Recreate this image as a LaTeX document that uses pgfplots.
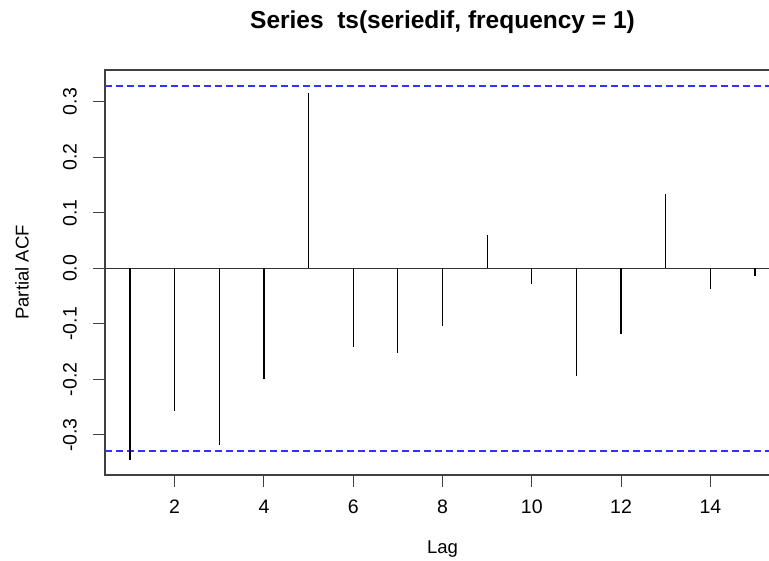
\documentclass[border=0pt]{standalone}
\usepackage{pgfplots}
\pgfplotsset{compat=1.18}
\usepackage{fontspec}
\setmainfont{Liberation Sans}
\definecolor{ciblue}{RGB}{50,50,255}

\begin{document}
\begin{tikzpicture}
\begin{axis}[
  scale only axis,
  width=675pt, height=405pt,
  xmin=0.44, xmax=15.56,
  ymin=-0.372, ymax=0.357,
  xtick={2,4,...,14},
  ytick={-0.3,-0.2,...,0.31},
  xtick pos=bottom, ytick pos=left,
  tick align=outside,
  major tick length=12pt,
  tick style={black!75, line width=1pt},
  axis line style={black!75, line width=1.2pt},
  /pgf/number format/assume math mode=true,
  yticklabel={\pgfmathprintnumber[fixed,fixed zerofill,precision=1]{\tick}},
  ticklabel style={font=\fontsize{19.5}{22}\selectfont},
  xticklabel style={anchor=center, yshift=-20pt},
  yticklabel style={xshift=-23pt, anchor=center, rotate=90},
  title={Series\ \ ts(seriedif, frequency = 1)},
  title style={font=\bfseries\fontsize{24.5}{28}\selectfont, at={(axis description cs:0.5,1)}, anchor=center, yshift=42pt},
  xlabel={Lag},
  xlabel style={font=\fontsize{18.5}{21}\selectfont, at={(axis description cs:0.5,0)}, anchor=center, yshift=-74pt},
  ylabel={Partial ACF},
  ylabel style={font=\fontsize{18.5}{21}\selectfont, at={(axis description cs:0,0.5)}, anchor=center, yshift=83pt},
  clip=false,
]
\addplot[color=ciblue, line width=2pt, dash pattern=on 7pt off 4pt] coordinates {(0.44,-0.329) (15.56,-0.329)};
\addplot[color=ciblue, line width=2pt, dash pattern=on 7pt off 4pt] coordinates {(0.44,0.329) (15.56,0.329)};
\addplot[color=black!80, line width=1pt] coordinates {(0.44,0) (15.56,0)};
\addplot[ycomb, color=black, line width=1.2pt, mark=none] coordinates {
  (1,-0.345) (2,-0.257) (3,-0.318) (4,-0.199) (5,0.315)
  (6,-0.141) (7,-0.152) (8,-0.103) (9,0.060) (10,-0.029)
  (11,-0.194) (12,-0.118) (13,0.134) (14,-0.038) (15,-0.014)};
\end{axis}
\pgfresetboundingbox
\path ([shift={(-105pt,-86pt)}]current axis.south west) rectangle ([shift={(664pt,475pt)}]current axis.south west);
\end{tikzpicture}
\end{document}
